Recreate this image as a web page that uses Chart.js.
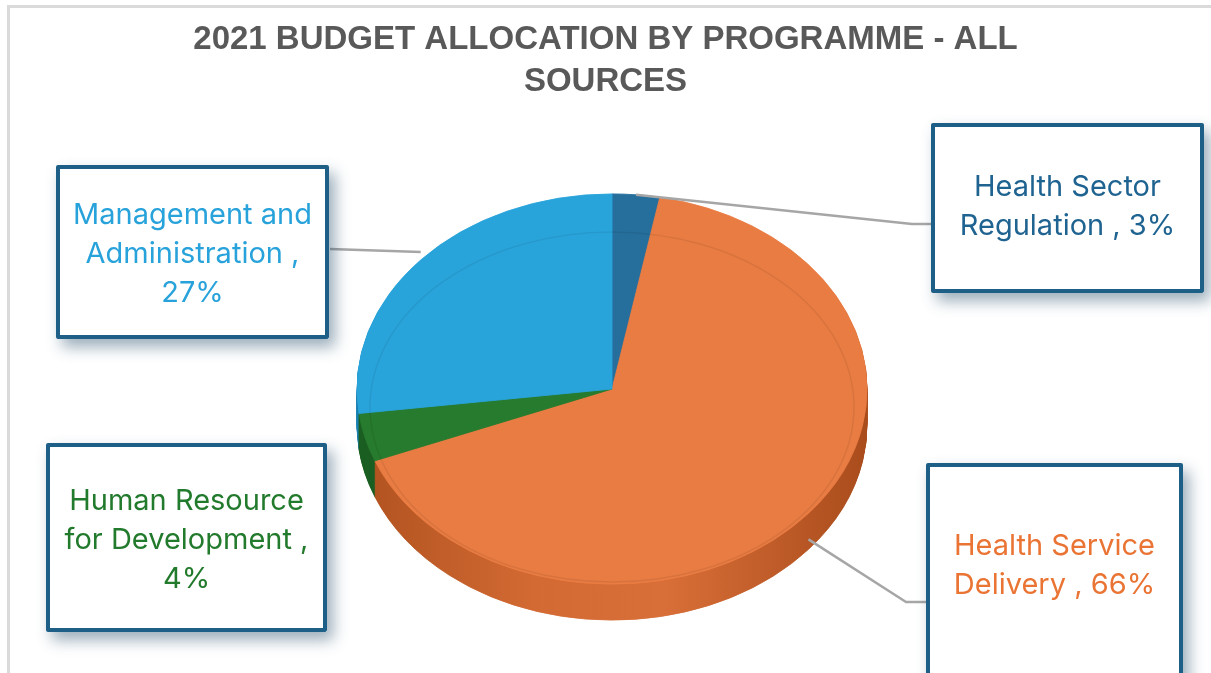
<!DOCTYPE html>
<html>
<head>
<meta charset="utf-8">
<title>2021 Budget Allocation by Programme</title>
<script src="https://cdn.jsdelivr.net/npm/chart.js@4.4.1/dist/chart.umd.min.js"></script>
<style>
  html, body { margin: 0; padding: 0; background: #ffffff; }
  canvas { display: block; }
</style>
</head>
<body>
<canvas id="budget" width="1211" height="673"></canvas>
<script>
// ---- data ----
const titleLines = ['2021 BUDGET ALLOCATION BY PROGRAMME - ALL', 'SOURCES'];
const programmes = [
  'Health Sector Regulation',
  'Health Service Delivery',
  'Human Resource for Development',
  'Management and Administration'
];
const shares = [3, 66, 4, 27];

// ---- styling ----
const sliceColours = ['#266f9d', '#e97c43', '#277b2e', '#29a4db'];
const sideColours  = ['#1b5478', null, '#1b5e22', '#1d82b3'];   // null -> shaded gradient
const labelColours = ['#1f6391', '#ea7434', '#227a2c', '#28a2da'];

// tilted pie geometry (screen pixels)
const PIE = { cx: 612, cy: 389, radius: 255, tilt: 0.765, depth: 36 };

// callout boxes, in the same order as the programmes
const callouts = [
  { x: 931, y: 123, w: 273, h: 170, textY: 207, drop: 0,  leader: [[912, 224], [931, 224]] },
  { x: 926, y: 463, w: 257, h: 240, textY: 566, drop: 26, leader: [[906, 602], [926, 602]] },
  { x: 46,  y: 443, w: 281, h: 189, textY: 540, drop: 0,  leader: null },
  { x: 56,  y: 165, w: 273, h: 174, textY: 254, drop: -8, leader: [[330, 249]] }
];

const LABEL_FONT = '29px Inter, "Liberation Sans", sans-serif';
const LABEL_LINE = 39;

function pieTransform(ctx, el, dy) {
  ctx.translate(PIE.cx, PIE.cy + dy);
  ctx.scale(1, PIE.tilt);
  ctx.translate(-el.x, -el.y);
}

function paintArc(ctx, el, fill) {
  const saved = el.options;
  el.options = Object.assign({}, saved, { backgroundColor: fill, borderColor: fill });
  el.draw(ctx);
  el.options = saved;
}

function wrapLabel(ctx, text, maxW) {
  const words = text.split(' ');
  const lines = [];
  let line = '';
  for (const w of words) {
    const trial = line ? line + ' ' + w : w;
    if (line && ctx.measureText(trial).width > maxW) {
      lines.push(line);
      line = w;
    } else {
      line = trial;
    }
  }
  lines.push(line);
  return lines;
}

const tiltedPie = {
  id: 'tiltedPie',
  beforeDraw(chart) {
    const ctx = chart.ctx;
    ctx.save();
    ctx.fillStyle = '#ffffff';
    ctx.fillRect(0, 0, chart.width, chart.height);
    ctx.strokeStyle = '#dadada';
    ctx.lineWidth = 3;
    ctx.strokeRect(8.5, 6.5, chart.width + 50, chart.height + 50);
    ctx.restore();
  },
  beforeDatasetsDraw(chart) {
    const ctx = chart.ctx;
    const arcs = chart.getDatasetMeta(0).data;
    const ref = arcs[0];
    const R = ref.outerRadius;
    const shade = ctx.createLinearGradient(ref.x - R, 0, ref.x + R, 0);
    shade.addColorStop(0, '#b0521f');
    shade.addColorStop(0.35, '#d36a33');
    shade.addColorStop(0.6, '#d96f38');
    shade.addColorStop(1, '#a94c1c');
    // side wall: stacked copies of each slice, pushed downwards
    for (let d = PIE.depth; d >= 1; d--) {
      ctx.save();
      pieTransform(ctx, ref, d);
      arcs.forEach((el, i) => paintArc(ctx, el, sideColours[i] || shade));
      ctx.restore();
    }
    // top face is drawn by Chart.js under this transform
    ctx.save();
    pieTransform(ctx, ref, 0);
  },
  afterDatasetsDraw(chart) {
    const ctx = chart.ctx;
    ctx.restore();
    // faint inner rim on the top face
    ctx.save();
    ctx.strokeStyle = 'rgba(0,0,0,0.07)';
    ctx.lineWidth = 1.5;
    ctx.beginPath();
    ctx.ellipse(PIE.cx, PIE.cy + 18, PIE.radius - 13, PIE.radius * PIE.tilt - 20, 0, 0, Math.PI * 2);
    ctx.stroke();
    ctx.restore();
  },
  afterDraw(chart) {
    const ctx = chart.ctx;
    const arcs = chart.getDatasetMeta(0).data;

    // leader lines from each slice's mid-angle on the rim
    ctx.save();
    ctx.strokeStyle = '#a6a6a6';
    ctx.lineWidth = 2.5;
    ctx.lineJoin = 'round';
    arcs.forEach((el, i) => {
      const c = callouts[i];
      if (!c.leader) return;
      const mid = (el.startAngle + el.endAngle) / 2;
      const r = el.outerRadius;
      const ax = PIE.cx + r * Math.cos(mid);
      const ay = PIE.cy + r * PIE.tilt * Math.sin(mid) + c.drop;
      ctx.beginPath();
      ctx.moveTo(ax, ay);
      c.leader.forEach(p => ctx.lineTo(p[0], p[1]));
      ctx.stroke();
    });
    ctx.restore();

    // callout boxes with labels
    programmes.forEach((name, i) => {
      const c = callouts[i];
      ctx.save();
      ctx.shadowColor = 'rgba(35,75,105,0.45)';
      ctx.shadowBlur = 14;
      ctx.shadowOffsetX = 6;
      ctx.shadowOffsetY = 8;
      ctx.fillStyle = '#ffffff';
      ctx.fillRect(c.x, c.y, c.w, c.h);
      ctx.restore();

      ctx.save();
      ctx.strokeStyle = '#1d5f86';
      ctx.lineWidth = 4;
      ctx.lineJoin = 'round';
      ctx.strokeRect(c.x + 2, c.y + 2, c.w - 4, c.h - 4);

      ctx.font = LABEL_FONT;
      ctx.fillStyle = labelColours[i];
      ctx.textAlign = 'center';
      ctx.textBaseline = 'middle';
      const lines = wrapLabel(ctx, name + ' , ' + shares[i] + '%', c.w - 18);
      const top = c.textY - (lines.length - 1) * LABEL_LINE / 2;
      lines.forEach((ln, k) => ctx.fillText(ln, c.x + c.w / 2, top + k * LABEL_LINE));
      ctx.restore();
    });
  }
};

new Chart(document.getElementById('budget'), {
  type: 'pie',
  data: {
    labels: programmes,
    datasets: [{
      data: shares,
      backgroundColor: sliceColours,
      borderColor: sliceColours,
      borderWidth: 1,
      radius: PIE.radius,
      clip: false
    }]
  },
  options: {
    responsive: false,
    animation: false,
    events: [],
    plugins: {
      legend: { display: false },
      tooltip: { enabled: false },
      title: {
        display: true,
        text: titleLines,
        color: '#595959',
        font: { family: '"Liberation Sans", Arial, sans-serif', size: 33, weight: 'bold', lineHeight: 1.3 },
        padding: { top: 18, bottom: 10 }
      }
    }
  },
  plugins: [tiltedPie]
});
</script>
</body>
</html>
